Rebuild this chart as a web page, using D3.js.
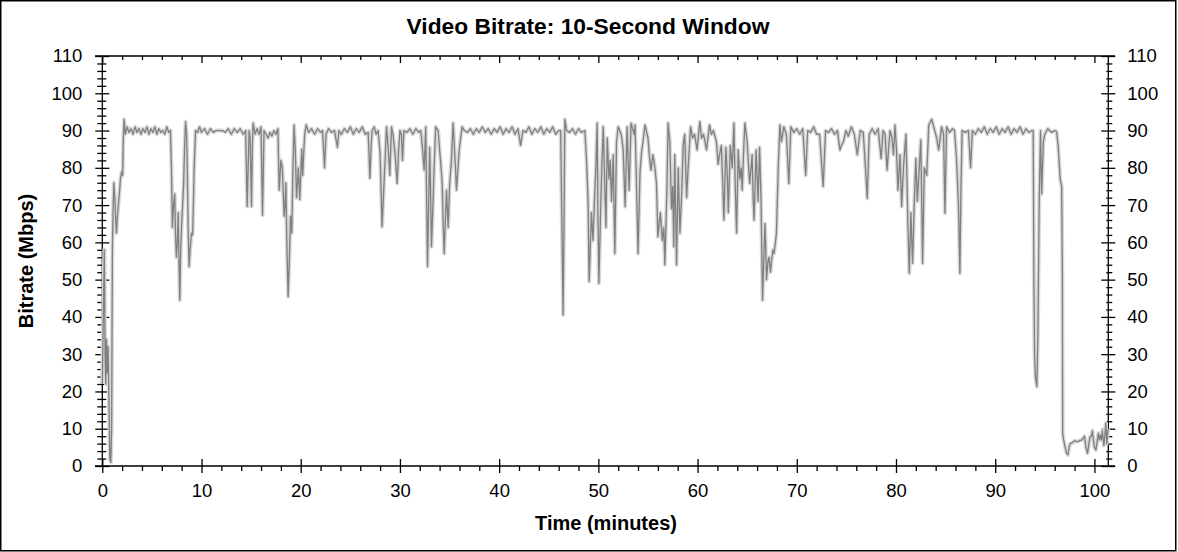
<!DOCTYPE html>
<html>
<head>
<meta charset="utf-8">
<script src="https://d3js.org/d3.v7.min.js"></script>
<style>
  body { margin: 0; background: #fff; }
  .tick text { fill: #000; }
  .lbl { font-family: "Liberation Sans", Arial, sans-serif; font-weight: bold; fill: #000; }
</style>
</head>
<body>
<div id="chart"></div>
<script>
var width = 1178, height = 552;
var plot = {left: 102.3, right: 1108.3, top: 56, bottom: 466};

var chartTitle = "Video Bitrate: 10-Second Window";
var xTitle = "Time (minutes)";
var yTitle = "Bitrate (Mbps)";

var xMajor = [0, 10, 20, 30, 40, 50, 60, 70, 80, 90, 100];
var yMajor = [0, 10, 20, 30, 40, 50, 60, 70, 80, 90, 100, 110];
var xEnd = 101.4, yEnd = 110;

// [minute, Mbps]
var seg0to10 = [[0.0,22],[0.1,40],[0.2,58],[0.28,30],[0.35,22],[0.42,34],[0.5,25],[0.58,32],[0.66,20],[0.76,2],[0.86,1],[0.94,10],
  [1.02,59],[1.1,70],[1.16,76],[1.26,72],[1.35,66],[1.43,62.5],[1.52,67],[1.62,70],[1.72,73],[1.83,77],[1.95,79],[2.05,78],[2.12,88],
  [2.2,93],[2.32,89],[2.5,91],[2.7,89.5],[2.9,90.5],[3.1,89],[3.3,91],[3.5,89.5],[3.7,90.5],[3.9,89],[4.1,90.5],[4.3,89.5],[4.5,91],
  [4.7,89],[4.9,90.5],[5.1,89.5],[5.3,91],[5.5,89],[5.7,90.5],[5.9,89.5],[6.1,90],[6.3,89],[6.5,91],[6.7,89.5],[6.87,90],[6.97,80],
  [7.07,64],[7.18,70],[7.3,73],[7.38,62],[7.47,56],[7.56,60],[7.65,68],[7.72,56],[7.81,44.5],[7.9,58],[8.0,65],[8.1,70],[8.2,76],
  [8.3,86],[8.39,92.4],[8.5,89],[8.58,78],[8.65,64],[8.75,53.5],[8.85,58],[8.99,62.5],[9.1,62],[9.18,70],[9.26,80],[9.4,90],[9.6,89.5],[9.8,91]];

var seg10to20 = [[10.0,89.5],[10.3,90.5],[10.6,89],[10.9,90.5],[11.2,89.5],[11.5,90],[11.8,90],[12.1,90],[12.4,89.5],[12.7,90.5],
  [13.0,89],[13.3,90.5],[13.6,89.5],[13.9,90.5],[14.2,89],[14.45,90],[14.6,69.6],[14.7,80],[14.8,90],[14.9,88],[15.04,69.6],[15.12,85],
  [15.2,92],[15.4,89],[15.6,90.5],[15.8,89],[16.0,91],[16.15,67.3],[16.3,90],[16.5,89],[16.7,88],[16.9,89.5],[17.1,88.5],[17.3,90],
  [17.5,89],[17.7,90.5],[17.83,74],[17.92,78],[18.0,82],[18.15,80],[18.33,67],[18.42,70],[18.5,76],[18.6,60],[18.73,45.4],[18.85,55],
  [18.97,67],[19.1,62.5],[19.2,78],[19.33,91.5],[19.45,85],[19.58,72],[19.68,76],[19.75,80],[19.85,75],[19.9,71.5],[20.0,78],
  [20.1,85],[20.2,78],[20.3,84],[20.4,89],[20.55,91.5]];

var seg20to40 = [[20.8,89.5],[21.1,90.5],[21.4,89],[21.7,90.5],[22.0,89.5],[22.2,90],[22.4,80],[22.55,89],[22.8,90.5],[23.1,89.5],
  [23.4,90],[23.7,85.5],[23.85,90],[24.1,89],[24.4,90.5],[24.7,89.5],[25.0,91],[25.3,89],[25.6,90.5],[25.9,89.5],[26.2,91],[26.5,89],
  [26.8,89.5],[26.97,77.2],[27.1,86],[27.2,90],[27.4,91],[27.6,89],[27.8,90],[28.0,84],[28.2,64.2],[28.35,73],[28.5,82],[28.65,91],
  [28.8,86],[28.98,78],[29.15,91],[29.3,89],[29.5,84],[29.72,75.8],[29.85,84],[30.0,90],[30.15,89],[30.26,82],[30.4,90],[30.7,89.5],
  [31.0,90.5],[31.3,89],[31.6,90.5],[31.9,89.5],[32.1,90],[32.25,86],[32.44,79.4],[32.6,91],[32.7,70],[32.78,53.5],[32.88,68],
  [33.0,85.5],[33.1,72],[33.18,58.8],[33.3,68],[33.45,80],[33.6,91],[33.85,90],[34.0,84.8],[34.15,80],[34.26,75.8],[34.35,66],
  [34.46,57],[34.58,66],[34.7,74],[34.86,64],[35.0,75],[35.2,82.5],[35.36,92],[35.5,85],[35.6,80],[35.7,74],[35.85,80],[36.0,85.5],
  [36.27,91],[36.5,90],[36.8,89.5],[37.1,90.5],[37.4,89],[37.7,90.5],[38.0,89.5],[38.3,91],[38.6,89.5],[38.9,90.5],[39.2,89],
  [39.5,90.5],[39.8,89.5]];

var seg40to60 = [[40.1,91],[40.4,89],[40.7,90.5],[41.0,89.5],[41.3,91],[41.6,89],[41.9,90.5],[42.16,86],[42.4,90],[42.7,89.5],
  [43.0,91],[43.3,89],[43.6,90.5],[43.9,89.5],[44.2,91],[44.5,89],[44.8,90.5],[45.1,89.5],[45.4,91],[45.7,89],[46.0,90],[46.2,90],
  [46.3,70],[46.45,40.5],[46.55,70],[46.62,93],[46.8,90],[47.1,89.5],[47.4,90.5],[47.7,89],[48.0,90.5],[48.3,89.5],[48.64,90],
  [48.8,82.5],[48.97,70.5],[49.07,49.5],[49.14,55],[49.3,68],[49.46,60.5],[49.6,70.5],[49.75,80],[49.88,92],[49.95,70],[50.05,49],
  [50.15,60],[50.25,71],[50.35,80],[50.49,91],[50.6,80],[50.76,64],[50.9,88],[51.07,77],[51.2,82],[51.33,71],[51.5,83.5],[51.66,57],
  [51.83,87],[52.0,91],[52.3,89],[52.5,85],[52.7,69.6],[52.9,91],[53.1,74],[53.3,92],[53.6,89],[53.7,91.5],[53.85,75],[54.0,57],
  [54.2,79],[54.35,84],[54.5,87],[54.7,91.5],[55.0,88],[55.15,83],[55.3,79.4],[55.5,83.5],[55.7,80],[55.86,75.8],[56.0,61.5],
  [56.25,68],[56.45,60.5],[56.6,64],[56.7,54],[56.9,73],[57.03,92],[57.2,87],[57.37,69],[57.5,75],[57.6,58.8],[57.7,83.5],[57.88,54],
  [58.05,80],[58.22,62.5],[58.4,73],[58.55,86],[58.7,89],[58.9,72],[59.05,80],[59.3,91],[59.5,88],[59.7,89],[59.95,84.8]];

var seg60to80 = [[60.23,92.4],[60.4,88],[60.6,89],[60.75,87],[60.9,84.8],[61.2,91.5],[61.4,89],[61.6,90],[61.9,87],[62.07,81],
  [62.25,84],[62.4,86],[62.55,75],[62.65,66],[62.85,85.5],[63.0,78],[63.1,68],[63.3,86],[63.5,80],[63.66,92],[63.8,75],[63.93,62.5],
  [64.1,84.8],[64.26,77],[64.4,80],[64.5,74],[64.65,85],[64.77,92],[65.0,87],[65.15,80],[65.25,75.8],[65.5,83.5],[65.6,72],[65.7,66],
  [65.9,84.8],[66.1,71],[66.25,85.5],[66.4,71],[66.55,44.5],[66.7,58],[66.8,65],[66.95,50],[67.1,55],[67.2,56],[67.35,52],[67.45,55],
  [67.6,58],[67.7,57],[67.85,60],[67.95,62.5],[68.13,80],[68.3,91.5],[68.45,87],[68.7,91],[68.95,89],[69.2,75.8],[69.4,91],[69.7,89.5],
  [70.0,90.5],[70.3,89],[70.6,90.5],[70.9,78],[71.1,90],[71.4,89.5],[71.7,91],[72.0,89],[72.3,89],[72.66,75],[72.9,90],[73.2,89.5],
  [73.5,90.5],[73.8,89],[74.1,90],[74.35,84.8],[74.5,86],[74.7,87],[74.95,90],[75.2,88.5],[75.5,91],[75.8,89],[76.1,83.5],[76.4,90],
  [76.7,89.5],[76.97,78],[77.1,71.8],[77.2,80],[77.3,89],[77.6,90.5],[77.9,89],[78.2,90.5],[78.5,82.5],[78.7,90],[78.9,89],[79.1,79.4],
  [79.25,85],[79.4,90],[79.6,88],[79.75,83.5],[79.9,91.5]];

var seg80toEnd = [[80.05,85],[80.2,74],[80.4,83.5],[80.57,69.6],[80.75,80],[81.0,89],[81.1,78],[81.2,65],[81.34,51.7],[81.5,68],
  [81.67,54.4],[81.85,71],[82.0,82.5],[82.15,71],[82.35,80],[82.5,87.5],[82.6,70],[82.68,54.4],[82.85,80],[83.1,78],[83.3,91.5],
  [83.6,93],[83.9,90],[84.1,88],[84.3,84.8],[84.6,91],[84.8,89],[84.93,67.8],[85.1,91],[85.4,89.5],[85.7,90.5],[85.9,90],[86.1,82.5],
  [86.3,70],[86.44,51.7],[86.55,75],[86.67,90],[87.0,89.5],[87.3,90],[87.52,80],[87.7,90],[88.0,89],[88.3,90.5],[88.6,89.5],[88.9,91],
  [89.2,89],[89.5,90.5],[89.8,89.5],[90.1,91],[90.4,89],[90.7,90.5],[91.0,89.5],[91.3,91],[91.6,89],[91.9,90.5],[92.2,89.5],[92.5,91],
  [92.8,89],[93.1,90.5],[93.4,89.5],[93.7,90],[93.83,90],[93.9,50],[93.97,30],[94.05,24],[94.2,21.3],[94.3,35],[94.44,72],[94.57,90],
  [94.68,73],[94.85,87],[95.0,89],[95.3,90.5],[95.7,89.5],[96.0,90],[96.19,89.7],[96.35,85.7],[96.55,77],[96.7,75],[96.77,51.7],
  [96.8,8.8],[96.9,7],[97.05,5],[97.2,3.4],[97.33,3],[97.45,5],[97.55,6],[97.75,6.2],[98.0,6.8],[98.25,6.5],[98.5,6.8],[98.75,7],
  [99.0,8],[99.15,5],[99.3,3.4],[99.45,6],[99.55,7.8],[99.7,8],[99.8,9.5],[99.9,7],[100.0,5],[100.15,4.3],[100.3,7],[100.4,8.8],
  [100.5,7],[100.6,8.3],[100.7,7],[100.8,9.5],[100.95,5.5],[101.05,8],[101.15,11.5],[101.25,6],[101.3,7.8],[101.38,10]];

var bitrate = seg0to10.concat(seg10to20, seg20to40, seg40to60, seg60to80, seg80toEnd);

var svg = d3.select("#chart")
  .append("svg")
  .attr("width", width)
  .attr("height", height);

svg.append("rect")
  .attr("x", 0.75).attr("y", 0.75)
  .attr("width", 1175).attr("height", 550)
  .attr("fill", "#fff")
  .attr("stroke", "#000")
  .attr("stroke-width", 1.5);

var x = d3.scaleLinear().domain([0, xEnd]).range([plot.left, plot.right]);
var y = d3.scaleLinear().domain([0, yEnd]).range([plot.bottom, plot.top]);

var xMinor = d3.range(0, 101, 2).filter(function(d){ return d % 10 != 0; });
var yMinor = d3.range(0, 111, 2).filter(function(d){ return d % 10 != 0; });

drawAxes();
drawTrace();
drawLabels();

function styleAxis(g)
{
  g.select(".domain").remove();
  g.selectAll(".tick line").attr("stroke", "#000").attr("stroke-width", 1.3);
  g.attr("font-family", "'Liberation Sans', Arial, sans-serif").attr("font-size", 18.5);
}

function drawAxes()
{
  // frame lines run a little past the corners
  svg.append("line").attr("x1", 95).attr("x2", 1115).attr("y1", plot.bottom).attr("y2", plot.bottom)
    .attr("stroke", "#000").attr("stroke-width", 1.3);
  svg.append("line").attr("x1", 95).attr("x2", 1115).attr("y1", plot.top).attr("y2", plot.top)
    .attr("stroke", "#000").attr("stroke-width", 1.3);
  svg.append("line").attr("x1", plot.left).attr("x2", plot.left).attr("y1", plot.top).attr("y2", plot.bottom)
    .attr("stroke", "#000").attr("stroke-width", 1.3);
  svg.append("line").attr("x1", plot.right).attr("x2", plot.right).attr("y1", plot.top).attr("y2", plot.bottom)
    .attr("stroke", "#000").attr("stroke-width", 1.3);

  // bottom
  svg.append("g").attr("transform", "translate(0," + plot.bottom + ")")
    .call(d3.axisBottom(x).tickValues(xMajor).tickSize(7).tickSizeOuter(0).tickPadding(11))
    .call(styleAxis);
  svg.append("g").attr("transform", "translate(0," + plot.bottom + ")")
    .call(d3.axisBottom(x).tickValues(xMajor).tickSize(-7).tickSizeOuter(0).tickFormat(""))
    .call(styleAxis);
  svg.append("g").attr("transform", "translate(0," + plot.bottom + ")")
    .call(d3.axisBottom(x).tickValues(xMinor).tickSize(5).tickSizeOuter(0).tickFormat(""))
    .call(styleAxis);

  // top
  svg.append("g").attr("transform", "translate(0," + plot.top + ")")
    .call(d3.axisTop(x).tickValues(xMajor).tickSize(-7).tickSizeOuter(0).tickFormat(""))
    .call(styleAxis);
  svg.append("g").attr("transform", "translate(0," + plot.top + ")")
    .call(d3.axisTop(x).tickValues(xMinor).tickSize(-4).tickSizeOuter(0).tickFormat(""))
    .call(styleAxis);

  // left
  svg.append("g").attr("transform", "translate(" + plot.left + ",0)")
    .call(d3.axisLeft(y).tickValues(yMajor).tickSize(7).tickSizeOuter(0).tickPadding(13))
    .call(styleAxis);
  svg.append("g").attr("transform", "translate(" + plot.left + ",0)")
    .call(d3.axisLeft(y).tickValues(yMajor).tickSize(-7).tickSizeOuter(0).tickFormat(""))
    .call(styleAxis);
  svg.append("g").attr("transform", "translate(" + (plot.left + 4) + ",0)")
    .call(d3.axisLeft(y).tickValues(yMinor).tickSize(9).tickSizeOuter(0).tickFormat(""))
    .call(styleAxis);

  // right
  svg.append("g").attr("transform", "translate(" + plot.right + ",0)")
    .call(d3.axisRight(y).tickValues(yMajor).tickSize(7).tickSizeOuter(0).tickPadding(12))
    .call(styleAxis);
  svg.append("g").attr("transform", "translate(" + plot.right + ",0)")
    .call(d3.axisRight(y).tickValues(yMajor).tickSize(-7).tickSizeOuter(0).tickFormat(""))
    .call(styleAxis);
  svg.append("g").attr("transform", "translate(" + (plot.right - 2) + ",0)")
    .call(d3.axisRight(y).tickValues(yMinor).tickSize(6).tickSizeOuter(0).tickFormat(""))
    .call(styleAxis);
}

function drawTrace()
{
  var line = d3.line()
    .x(function(d){ return x(d[0]); })
    .y(function(d){ return y(d[1]); });

  // light halo behind the averaged line
  svg.append("path")
    .datum(bitrate)
    .attr("d", line)
    .attr("fill", "none")
    .attr("stroke", "#d8d8d8")
    .attr("stroke-width", 4)
    .attr("stroke-linejoin", "round");

  svg.append("path")
    .datum(bitrate)
    .attr("d", line)
    .attr("fill", "none")
    .attr("stroke", "#808080")
    .attr("stroke-width", 1.3)
    .attr("stroke-linejoin", "round");
}

function drawLabels()
{
  svg.append("text")
    .text(chartTitle)
    .attr("x", 588)
    .attr("y", 34)
    .attr("text-anchor", "middle")
    .attr("font-size", 22.8)
    .attr("class", "lbl");

  svg.append("text")
    .text(xTitle)
    .attr("x", 606)
    .attr("y", 530)
    .attr("text-anchor", "middle")
    .attr("font-size", 20)
    .attr("class", "lbl");

  svg.append("text")
    .text(yTitle)
    .attr("transform", "translate(33,261) rotate(-90)")
    .attr("text-anchor", "middle")
    .attr("font-size", 20)
    .attr("class", "lbl");
}
</script>
</body>
</html>
